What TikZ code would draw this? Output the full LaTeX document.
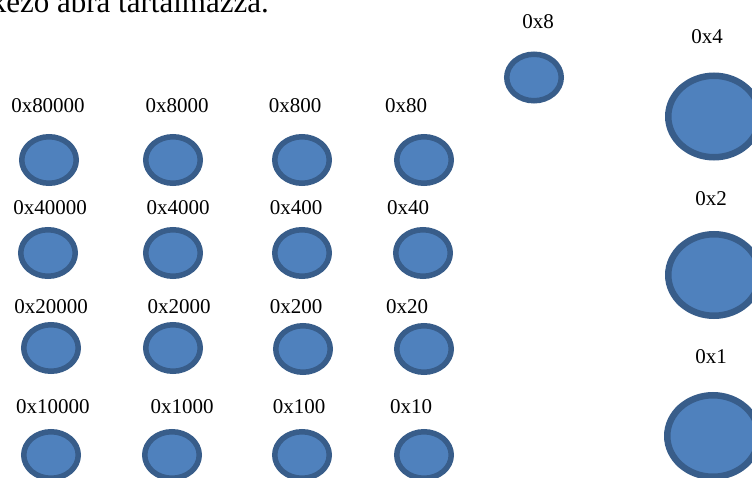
\documentclass[tikz,border=0pt]{standalone}
\usepackage{fontspec}
\setmainfont{Liberation Serif}
\usetikzlibrary{shapes.geometric}
\definecolor{bitfill}{HTML}{4F81BD}
\definecolor{bitedge}{HTML}{385D8A}
\begin{document}
\begin{tikzpicture}[x=1pt,y=-1pt,
  bit/.style={ellipse,draw=bitedge,fill=bitfill,line width=5.5pt,inner sep=0pt,
              minimum width=54.5pt,minimum height=46.5pt},
  bigbit/.style={bit,line width=6.5pt,minimum width=91.5pt,minimum height=81.5pt},
  tag/.style={anchor=base,inner sep=0pt,font=\fontsize{21}{21}\selectfont}]
\useasboundingbox (0,0) rectangle (752,478);
\clip (0,0) rectangle (752,478);

% running text line above the figure
\node[anchor=base east,inner sep=0pt,font=\fontsize{31}{31}\selectfont]
  (caption) at (269,13) {következő ábra tartalmazza.};

% grid of bit masks: value / label x / label baseline / ellipse x / ellipse y
\foreach \v/\lx/\ly/\ex/\ey in {
  80000/48/113/49/160, 8000/177/113/173/160, 800/295/113/302/160, 80/406/113/424/160,
  40000/50/215/48/253, 4000/178/215/173/253, 400/296/215/302/253, 40/408/215/423/253,
  20000/51/313/51/348, 2000/179/313/173/348, 200/296/313/303/349, 20/407/313/424/349,
  10000/53/413/51/455, 1000/182/413/172/455, 100/299/413/302/455, 10/411/413/424/455}
{
  \node[tag] (l\v) at (\lx,\ly) {0x\v};
  \node[bit] (b\v) at (\ex,\ey) {};
}

% lowest bits on the right
\node[tag] (l8) at (538,29) {0x8};
\node[bit] (b8) at (534,77.5) {};
\node[tag] (l4) at (707,44) {0x4};
\node[bigbit] (b4) at (714,116.5) {};
\node[tag] (l2) at (711,206) {0x2};
\node[bigbit] (b2) at (714,275) {};
\node[tag] (l1) at (711,363) {0x1};
\node[bigbit] (b1) at (713,436) {};
\end{tikzpicture}
\end{document}
